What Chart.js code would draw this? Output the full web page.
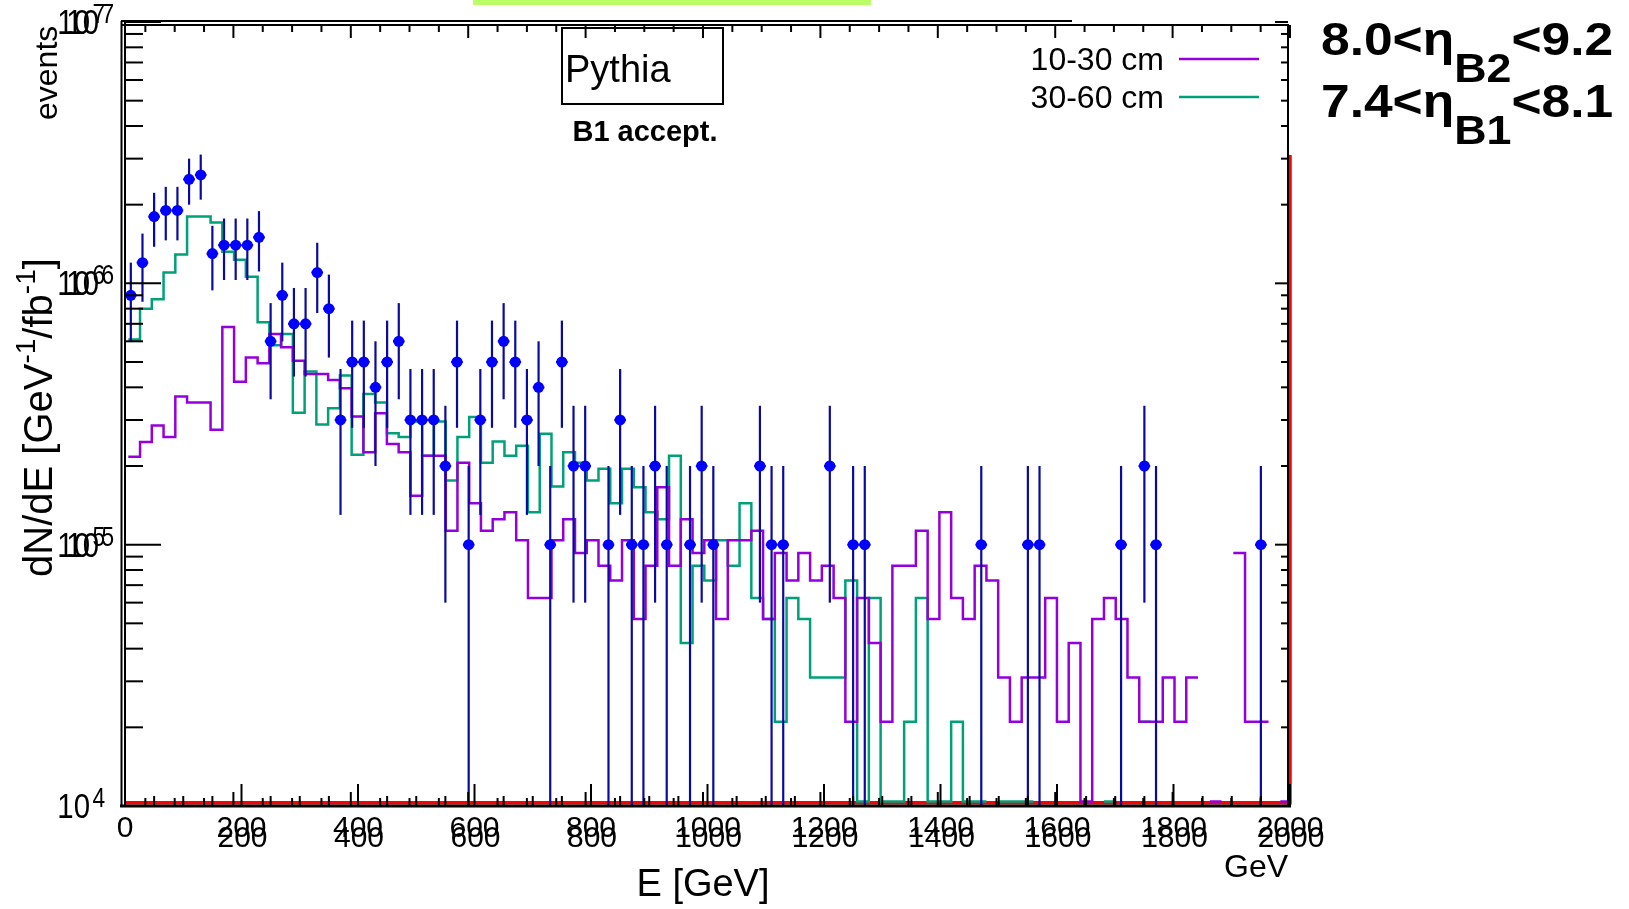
<!DOCTYPE html>
<html>
<head>
<meta charset="utf-8">
<title>dN/dE Pythia B1 accept.</title>
<script src="https://cdn.jsdelivr.net/npm/chart.js@4.4.1/dist/chart.umd.min.js"></script>
<style>
  html, body { margin: 0; padding: 0; background: #fff; overflow: hidden; }
  canvas { display: block; }
</style>
</head>
<body>
<canvas id="espectroChart" width="1629" height="909"></canvas>
<script>
// bins de 20 GeV
const binWidth = 20;
const binLowEdges = [0,20,40,60,80,100,120,140,160,180,200,220,240,260,280,300,320,340,360,380,
  400,420,440,460,480,500,520,540,560,580,600,620,640,660,680,700,720,740,760,780,
  800,820,840,860,880,900,920,940,960,980,1000,1020,1040,1060,1080,1100,1120,1140,1160,1180,
  1200,1220,1240,1260,1280,1300,1320,1340,1360,1380,1400,1420,1440,1460,1480,1500,1520,1540,1560,1580,
  1600,1620,1640,1660,1680,1700,1720,1740,1760,1780,1800,1820,1840,1860,1880,1900,1920,1940,1960,1980];

// 10-30 cm (violeta)
const rate10to30 = [
  2.17e5, 2.47e5, 2.86e5, 2.58e5, 3.69e5, 3.5e5, 3.5e5, 2.75e5, 6.8e5, 4.2e5,
  5.2e5, 4.95e5, 6.4e5, 5.7e5, 5.05e5, 4.5e5, 4.5e5, 4.27e5, 3.97e5, 3.09e5,
  2.26e5, 3.18e5, 2.43e5, 2.26e5, 1.54e5, 2.19e5, 2.19e5, 1.13e5, 2.06e5, 1.44e5,
  1.13e5, 1.25e5, 1.33e5, 1.04e5, 6.25e4, 6.25e4, 1.04e5, 1.25e5, 9.3e4, 1.04e5,
  8.3e4, 7.3e4, 1.04e5, 5.2e4, 8.3e4, 1.66e5, 8.3e4, 1.25e5, 9.3e4, 1.04e5,
  5.2e4, 1.04e5, 1.04e5, 1.13e5, 5.2e4, 9.3e4, 7.3e4, 9.3e4, 7.3e4, 8.3e4,
  6.25e4, 2.1e4, 6.25e4, 4.2e4, 2.1e4, 8.3e4, 8.3e4, 1.13e5, 5.2e4, 1.33e5,
  6.25e4, 5.2e4, 8.3e4, 7.3e4, 3.1e4, 2.1e4, 3.1e4, 3.1e4, 6.25e4, 2.1e4,
  4.2e4, 1.04e4, 5.2e4, 6.25e4, 5.2e4, 3.1e4, 2.1e4, 2.1e4, 3.1e4, 2.1e4,
  3.1e4, null, 1.04e4, null, 9.3e4, 2.1e4, 2.1e4, null, 1.04e4, null
];

// 30-60 cm (verde)
const rate30to60 = [
  6.1e5, 8.0e5, 8.7e5, 1.10e6, 1.29e6, 1.80e6, 1.80e6, 1.71e6, 1.32e6, 1.23e6,
  1.06e6, 7.1e5, 5.8e5, 6.4e5, 3.2e5, 4.6e5, 2.88e5, 3.33e5, 4.44e5, 2.21e5,
  3.77e5, 3.5e5, 2.67e5, 2.58e5, 2.96e5, 2.19e5, 2.96e5, 1.76e5, 2.58e5, 3.08e5,
  2.06e5, 2.48e5, 2.19e5, 2.39e5, 1.33e5, 2.66e5, 1.67e5, 2.26e5, 2.06e5, 1.76e5,
  1.95e5, 1.44e5, 1.95e5, 1.66e5, 1.33e5, 1.25e5, 2.19e5, 4.2e4, 8.3e4, 7.3e4,
  1.04e5, 8.3e4, 1.44e5, 6.25e4, 5.2e4, 2.1e4, 6.25e4, 5.2e4, 3.1e4, 3.1e4,
  3.1e4, 7.3e4, 1.04e4, 6.25e4, 1.04e4, 1.04e4, 2.1e4, 6.25e4, 1.04e4, 1.04e4,
  2.1e4, 1.04e4, 1.04e4, null, 1.04e4, 1.04e4, 1.04e4, null, null, null,
  null, null, null, 1.04e4, null, null, 2.1e4, null, null, null,
  null, null, null, null, null, null, null, null, null, null
];

// puntos azules con barras de error
const eventEnergy = [10,30,50,70,90,110,130,150,170,190,210,230,250,270,290,310,330,350,370,390,
  410,430,450,470,490,510,530,550,570,590,610,630,650,670,690,710,730,750,770,790,
  830,850,870,890,910,930,970,990,1010,1090,1110,1130,1210,1250,1270,1470,1550,1570,1710,1750,1770,1950];
const eventRate = [9e5,1.2e6,1.8e6,1.9e6,1.9e6,2.5e6,2.6e6,1.3e6,1.4e6,1.4e6,
  1.4e6,1.5e6,6e5,9e5,7e5,7e5,1.1e6,8e5,3e5,5e5,
  5e5,4e5,5e5,6e5,3e5,3e5,3e5,2e5,5e5,1e5,
  3e5,5e5,6e5,5e5,3e5,4e5,1e5,5e5,2e5,2e5,
  1e5,3e5,1e5,1e5,2e5,1e5,1e5,2e5,1e5,2e5,1e5,1e5,2e5,1e5,1e5,1e5,1e5,1e5,1e5,2e5,1e5,1e5];
const eventError = [3.0e5,3.5e5,4.2e5,4.4e5,4.4e5,5.0e5,5.1e5,3.6e5,3.7e5,3.7e5,
  3.7e5,3.9e5,2.4e5,3.0e5,2.6e5,2.6e5,3.3e5,2.8e5,1.7e5,2.2e5,
  2.2e5,2.0e5,2.2e5,2.4e5,1.7e5,1.7e5,1.7e5,1.4e5,2.2e5,1.0e5,
  1.7e5,2.2e5,2.4e5,2.2e5,1.7e5,2.0e5,1.0e5,2.2e5,1.4e5,1.4e5,
  1.0e5,1.7e5,1.0e5,1.0e5,1.4e5,1.0e5,1.0e5,1.4e5,1.0e5,1.4e5,1.0e5,1.0e5,1.4e5,1.0e5,1.0e5,1.0e5,1.0e5,1.0e5,1.0e5,1.4e5,1.0e5,1.0e5];

// linea roja (borde inferior y borde derecho)
const redLineE = [0, 2000, 2000];
const redLineRate = [1.03e4, 1.03e4, 3.1e6];

// ejes
const xTickLabels = ['0','200','400','600','800','1000','1200','1400','1600','1800','2000'];
const yTickExponents = [4, 5, 6, 7];

const FONT = '"Liberation Sans", Arial, Helvetica, sans-serif';

function histPoints(values) {
  const pts = [];
  values.forEach((v, i) => {
    const lo = binLowEdges[i];
    if (v === null) {
      pts.push({ x: lo, y: null });
    } else {
      pts.push({ x: lo, y: v }, { x: lo + binWidth, y: v });
    }
  });
  return pts;
}

function line(ctx, x1, y1, x2, y2) {
  ctx.beginPath();
  ctx.moveTo(x1, y1);
  ctx.lineTo(x2, y2);
  ctx.stroke();
}

function text(ctx, s, x, y, size, align, bold) {
  ctx.font = (bold ? 'bold ' : '') + size + 'px ' + FONT;
  ctx.textAlign = align || 'left';
  ctx.textBaseline = 'alphabetic';
  ctx.fillText(s, x, y);
  return ctx.measureText(s).width;
}

// dibuja marco estilo ROOT, ticks, textos y barras de error
const rootFrame = {
  id: 'rootFrame',
  beforeDraw(chart) {
    const ctx = chart.ctx;
    ctx.save();
    ctx.fillStyle = '#ffffff';
    ctx.fillRect(0, 0, chart.width, chart.height);
    ctx.fillStyle = '#bbff66';
    ctx.fillRect(473, 0, 398, 5);
    ctx.restore();
  },
  beforeDatasetDraw(chart, args) {
    if (args.index !== 0) return;
    const ctx = chart.ctx;
    const a = chart.chartArea;
    const xs = chart.scales.x, ys = chart.scales.y;
    ctx.save();
    ctx.beginPath();
    ctx.rect(a.left, a.top, a.right - a.left, a.bottom - a.top);
    ctx.clip();
    ctx.strokeStyle = '#0a0aa0';
    ctx.lineWidth = 2.2;
    eventEnergy.forEach((e, i) => {
      const px = xs.getPixelForValue(e);
      const hi = ys.getPixelForValue(eventRate[i] + eventError[i]);
      const lowVal = eventRate[i] - eventError[i];
      const lo = lowVal > 0 ? ys.getPixelForValue(lowVal) : a.bottom;
      line(ctx, px, hi, px, lo);
      const py = ys.getPixelForValue(eventRate[i]);
      line(ctx, xs.getPixelForValue(e - binWidth / 2), py, xs.getPixelForValue(e + binWidth / 2), py);
    });
    ctx.restore();
  },
  afterDatasetsDraw(chart) {
    const ctx = chart.ctx;
    const xs = chart.scales.x, xb = chart.scales.xb, ys = chart.scales.y;
    ctx.save();
    ctx.strokeStyle = '#000';
    ctx.fillStyle = '#000';
    ctx.lineWidth = 2;

    // marco (dos marcos superpuestos)
    line(ctx, 121, 25, 1289, 25);
    line(ctx, 121, 21, 1072, 21);
    line(ctx, 125, 21, 125, 807);
    line(ctx, 121.5, 21, 121.5, 807);
    line(ctx, 1288, 25, 1288, 806);
    ctx.lineWidth = 3;
    line(ctx, 120, 806, 1291, 806);
    ctx.lineWidth = 2;

    // ticks eje x
    for (let v = 0; v <= 2000; v += 50) {
      const major = v % 200 === 0;
      const px = xs.getPixelForValue(v);
      line(ctx, px, 805, px, 805 - (major ? 21 : 9));
      if (v >= xb.min) {
        const pb = xb.getPixelForValue(v);
        line(ctx, pb, 805, pb, 805 - (major ? 13 : 7));
        line(ctx, pb, 25, pb, 25 + (major ? 13 : 7));
      }
    }
    // ticks eje y (log)
    yTickExponents.forEach(ex => {
      const base = Math.pow(10, ex);
      for (let m = 1; m <= 9; m++) {
        const val = base * m;
        if (val > ys.max) break;
        const py = ys.getPixelForValue(val);
        const major = m === 1;
        line(ctx, 125, py, 125 + (major ? 36 : 18), py);
        line(ctx, 1288, py, 1288 - (major ? 13 : 7), py);
      }
    });

    // etiquetas eje x (dobles, como en el original)
    xTickLabels.forEach(lbl => {
      const px = xs.getPixelForValue(Number(lbl));
      text(ctx, lbl, px, 837, 30, 'center');
      if (lbl !== '0') text(ctx, lbl, px + 1, 847, 30, 'center');
    });
    // etiquetas eje y (fuente algo estrecha)
    yTickExponents.forEach(ex => {
      const py = ys.getPixelForValue(Math.pow(10, ex));
      const copies = ex === 4 ? [0] : [0, 9];
      copies.forEach(dx => {
        ctx.save();
        ctx.translate(90 + dx, 0);
        ctx.scale(0.84, 1);
        text(ctx, '10', 0, py + 12, 35, 'right');
        text(ctx, String(ex), 3, py + 1, 27, 'left');
        ctx.restore();
      });
    });

    // titulos de ejes
    text(ctx, 'E [GeV]', 703, 896, 38, 'center');
    text(ctx, 'GeV', 1256, 877, 32, 'center');

    ctx.save();
    ctx.translate(52, 577);
    ctx.rotate(-Math.PI / 2);
    let cx = 0;
    cx += text(ctx, 'dN/dE [GeV', cx, 0, 40);
    cx += text(ctx, '-1', cx, -17, 28);
    cx += text(ctx, '/fb', cx, 0, 40);
    cx += text(ctx, '-1', cx, -17, 28);
    text(ctx, ']', cx, 0, 40);
    ctx.restore();

    ctx.save();
    ctx.translate(57, 120);
    ctx.rotate(-Math.PI / 2);
    text(ctx, 'events', 0, 0, 32);
    ctx.restore();

    // caja Pythia
    ctx.lineWidth = 2;
    ctx.strokeRect(562, 28, 161, 76);
    text(ctx, 'Pythia', 565, 82, 38);
    text(ctx, 'B1 accept.', 645, 141, 29, 'center', true);

    // leyenda
    const legend = [
      { label: '10-30 cm', color: chart.data.datasets[1].borderColor, y: 59 },
      { label: '30-60 cm', color: chart.data.datasets[2].borderColor, y: 97 }
    ];
    legend.forEach(item => {
      text(ctx, item.label, 1164, item.y + 11, 32, 'right');
      ctx.strokeStyle = item.color;
      ctx.lineWidth = 2.5;
      line(ctx, 1179, item.y, 1259, item.y);
    });

    // rangos de eta (texto algo mas ancho que Arial)
    const etaLine = (pre, sub, post, base) => {
      ctx.save();
      ctx.translate(1321, 0);
      ctx.scale(1.12, 1);
      let x = 0;
      x += text(ctx, pre, x, base, 46, 'left', true);
      x += text(ctx, sub, x, base + 27, 40, 'left', true);
      text(ctx, post, x, base, 46, 'left', true);
      ctx.restore();
    };
    etaLine('8.0<\u03b7', 'B2', '<9.2', 55);
    etaLine('7.4<\u03b7', 'B1', '<8.1', 117);

    ctx.restore();
  }
};

const ctx = document.getElementById('espectroChart').getContext('2d');
new Chart(ctx, {
  type: 'line',
  data: {
    datasets: [{
      type: 'scatter',
      label: 'events',
      data: eventEnergy.map((e, i) => ({ x: e, y: eventRate[i] })),
      xAxisID: 'x',
      yAxisID: 'y',
      showLine: false,
      pointRadius: 5.5,
      pointBackgroundColor: '#0000ff',
      pointBorderWidth: 0
    }, {
      label: '10-30 cm',
      data: histPoints(rate10to30),
      xAxisID: 'xh',
      yAxisID: 'y',
      borderColor: '#9400dc',
      borderWidth: 2.5,
      pointRadius: 0,
      tension: 0,
      spanGaps: false,
      fill: false
    }, {
      label: '30-60 cm',
      data: histPoints(rate30to60),
      xAxisID: 'xh',
      yAxisID: 'y',
      borderColor: '#00a078',
      borderWidth: 2.5,
      pointRadius: 0,
      tension: 0,
      spanGaps: false,
      fill: false
    }, {
      label: 'borde',
      data: redLineE.map((e, i) => ({ x: e, y: redLineRate[i] })),
      xAxisID: 'x',
      yAxisID: 'y',
      borderColor: '#ff0000',
      borderWidth: 3.5,
      pointRadius: 0,
      tension: 0,
      clip: 8
    }]
  },
  options: {
    responsive: false,
    animation: false,
    devicePixelRatio: 1,
    events: [],
    layout: { padding: { left: 125, right: 339, top: 22, bottom: 103 } },
    plugins: {
      legend: { display: false },
      tooltip: { enabled: false }
    },
    scales: {
      x: { type: 'linear', min: 0, max: 2000, display: false },
      xb: { type: 'linear', axis: 'x', min: 15.33, max: 2000, display: false },
      xh: { type: 'linear', axis: 'x', min: -5.6, max: 1976.5, display: false },
      y: { type: 'logarithmic', min: 1e4, max: 1e7, display: false }
    }
  },
  plugins: [rootFrame]
});
</script>
</body>
</html>
